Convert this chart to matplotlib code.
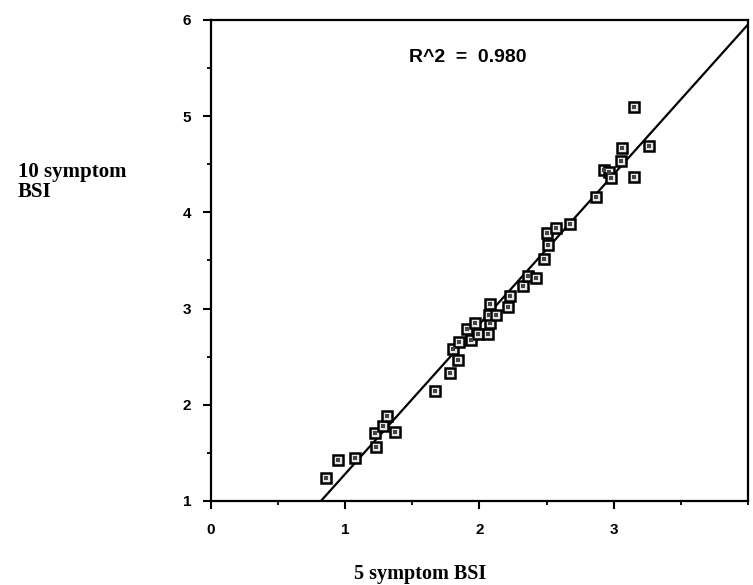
import numpy as np
import matplotlib
matplotlib.use("Agg")
import matplotlib.pyplot as plt
from matplotlib.ticker import MultipleLocator

# ---- data ----
bsi5 = [0.86, 0.95, 1.07, 1.23, 1.22, 1.28, 1.31, 1.37, 1.67, 1.78,
        1.84, 1.80, 1.85, 1.91, 1.94, 1.99, 1.97, 2.06, 2.08, 2.07,
        2.12, 2.08, 2.21, 2.23, 2.32, 2.36, 2.42, 2.48, 2.51, 2.50,
        2.57, 2.67, 2.87, 2.93, 2.96, 2.98, 3.05, 3.06, 3.15, 3.26, 3.15]
bsi10 = [1.24, 1.43, 1.45, 1.56, 1.71, 1.78, 1.88, 1.72, 2.14, 2.33,
         2.47, 2.58, 2.65, 2.79, 2.67, 2.74, 2.85, 2.74, 2.85, 2.93,
         2.93, 3.05, 3.02, 3.13, 3.23, 3.34, 3.32, 3.52, 3.66, 3.79,
         3.84, 3.88, 4.16, 4.44, 4.42, 4.36, 4.53, 4.67, 4.37, 4.69, 5.10]
x_ticks = [0, 1, 2, 3]
y_ticks = [1, 2, 3, 4, 5, 6]
r2_text = "R^2  =  0.980"
x_label = "5 symptom BSI"
y_label = "10 symptom\nBSI"

fig = plt.figure(figsize=(7.53, 5.85), dpi=100)
W, H = 753, 585
left, right, top, bottom = 210.7, 748.3, 20, 501
ax = fig.add_axes([left / W, 1 - bottom / H, (right - left) / W, (bottom - top) / H])

x = np.array(bsi5)
y = np.array(bsi10)
slope, intercept = np.polyfit(x, y, 1)
xl = np.array([0.0, 4.5])
ax.plot(xl, slope * xl + intercept, color="black", lw=1.6, zorder=2)

ax.plot(x, y, linestyle="none", marker="s", markersize=7,
        markerfacecolor="#e6e6e6", markeredgecolor="black", markeredgewidth=1.8, zorder=3)
ax.plot(x, y, linestyle="none", marker="s", markersize=2.2,
        markerfacecolor="#444444", markeredgecolor="#444444", markeredgewidth=0, zorder=4)

ax.set_xlim(0, 4)
ax.set_ylim(1, 6)
ax.set_xticks(x_ticks)
ax.set_yticks(y_ticks)
ax.xaxis.set_minor_locator(MultipleLocator(0.5))
ax.yaxis.set_minor_locator(MultipleLocator(0.5))
for s in ax.spines.values():
    s.set_linewidth(1.6)
tickfont = dict(family=["Liberation Sans", "DejaVu Sans"], weight="bold", size=11)
ax.tick_params(which="major", direction="out", length=6, width=1.5)
ax.tick_params(axis="y", which="major", pad=8)
ax.tick_params(axis="x", which="major", pad=10)
ax.tick_params(which="minor", direction="out", length=3, width=1.3)
ax.set_xticklabels([str(v) for v in x_ticks], **tickfont)
ax.set_yticklabels([str(v) for v in y_ticks], **tickfont)

ax.text(1.91, 5.61, r2_text, ha="center", va="center",
        family=["Liberation Sans", "DejaVu Sans"], weight="bold", fontsize=14)

fig.text(420 / W, 1 - 574 / H, x_label, ha="center", va="center",
         family=["Liberation Serif", "DejaVu Serif"], weight="bold", fontsize=14.5)
fig.text(18 / W, 1 - 182 / H, y_label, ha="left", va="center", linespacing=1.0,
         family=["Liberation Serif", "DejaVu Serif"], weight="bold", fontsize=15)

fig.savefig("out.png", dpi=100)
